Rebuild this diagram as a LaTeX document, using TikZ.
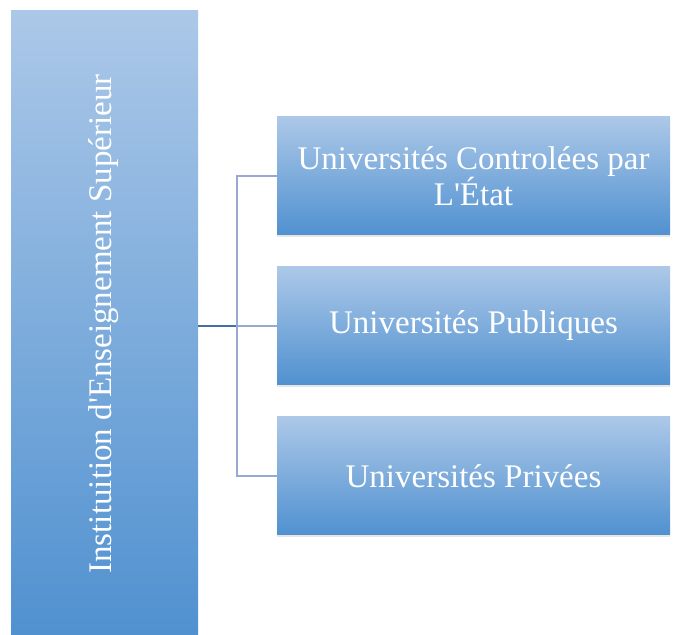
\documentclass[tikz,border=0pt]{standalone}
\usepackage{fontspec}
\setmainfont{Liberation Serif}
\usetikzlibrary{positioning,shadows}

\definecolor{boxtop}{RGB}{172,200,232}
\definecolor{boxbottom}{RGB}{80,145,208}
\definecolor{linkline}{RGB}{150,170,208}
\definecolor{stemline}{RGB}{70,110,168}

\tikzset{
  unibox/.style={rectangle, top color=boxtop, bottom color=boxbottom,
    minimum width=393pt, minimum height=118pt, inner sep=0pt,
    text=white, align=center, font=\fontsize{33}{33}\selectfont,
    drop shadow={opacity=0.2, shadow xshift=0pt, shadow yshift=-2pt}},
  instbox/.style={rectangle, top color=boxtop, bottom color=boxbottom,
    minimum width=187pt, minimum height=624pt, inner sep=0pt},
  link/.style={draw=linkline, line width=1.1pt}
}

\begin{document}
\begin{tikzpicture}[x=1pt,y=1pt]
  \useasboundingbox (0,0) rectangle (682,634);

  \node (inst) [instbox] at (104.5,311.5) {};
  \node (instlabel) [rotate=90, text=white, font=\fontsize{33}{33}\selectfont] at (104,310) {Instituition d\textquotesingle Enseignement Supérieur};

  \node (etat) [unibox] at (473.5,458) {Universités Controlées par\\L\textquotesingle État};
  \node (pub) [unibox] at (473.5,308) {Universités Publiques};
  \node (priv) [unibox] at (473.5,158) {Universités Privées};

  \coordinate (elbow) at (237,308);
  \draw [link, draw=stemline] (inst.east |- pub.west) -- (elbow);
  \draw [link] (elbow) -- (pub.west);
  \draw [link] (elbow) |- (etat.west);
  \draw [link] (elbow) |- (priv.west);

\end{tikzpicture}
\end{document}
